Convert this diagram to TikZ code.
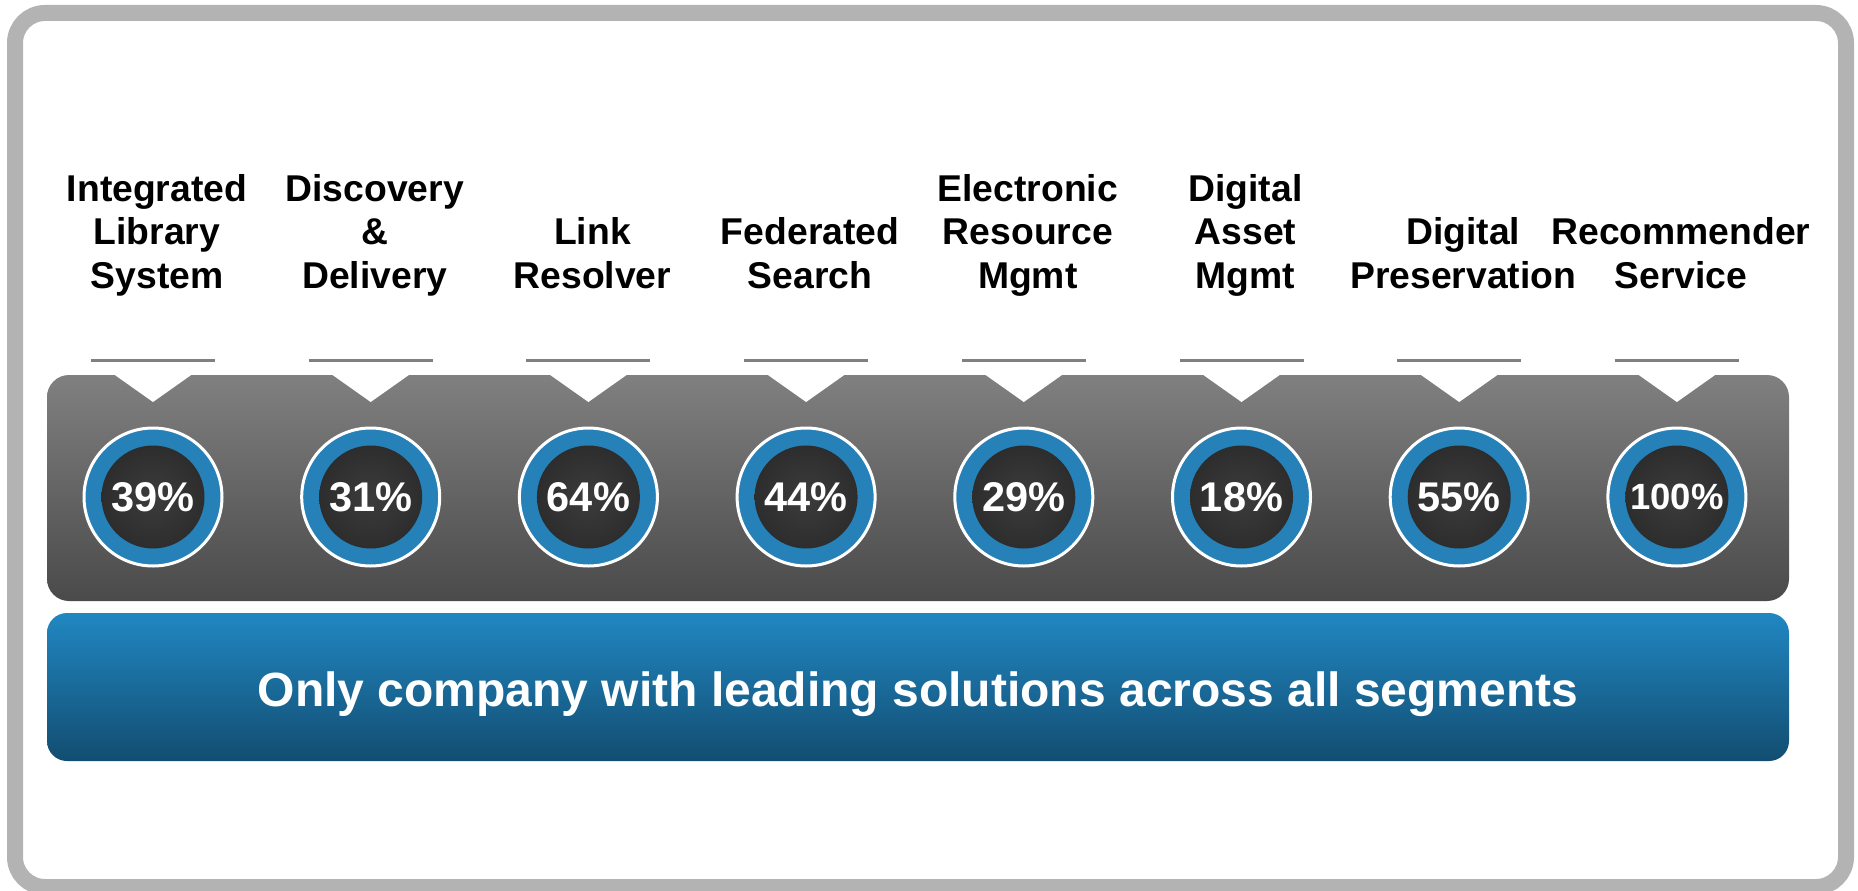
\documentclass[tikz,border=0pt]{standalone}
\usepackage{fontspec}
\setmainfont{Liberation Sans}
\usetikzlibrary{positioning}

\definecolor{frameGray}{HTML}{B3B3B3}
\definecolor{barTop}{HTML}{808080}
\definecolor{barBottom}{HTML}{4A4A4A}
\definecolor{ringBlue}{HTML}{2681B8}
\definecolor{coreIn}{HTML}{3C3C3C}
\definecolor{coreOut}{HTML}{2D2D2D}
\definecolor{bannerTop}{HTML}{2187C2}
\definecolor{bannerBottom}{HTML}{124D71}

\begin{document}
\begin{tikzpicture}[x=1pt,y=-1pt,
  segLabel/.style={anchor=south, align=center, inner sep=0pt, font=\fontsize{37.3}{43.5}\selectfont\bfseries},
  segRule/.style={line width=3pt, draw=barTop},
  ring/.style={circle, fill=ringBlue, draw=white, line width=3pt, minimum size=138pt, inner sep=0pt},
  core/.style={circle, inner color=coreIn, outer color=coreOut, minimum size=103pt, inner sep=0pt, text=white},
  panel/.style={rounded corners=22pt, top color=barTop, bottom color=barBottom, minimum width=1742pt, minimum height=226pt, inner sep=0pt},
  banner/.style={rounded corners=20pt, top color=bannerTop, bottom color=bannerBottom, minimum width=1742pt, minimum height=148pt, inner sep=0pt}]
  \useasboundingbox (0,0) rectangle (1858,891);
  \draw[frameGray, line width=16pt, rounded corners=30pt] (15,13) rectangle (1846,887);
  \node[panel] (panel) at (918,488) {};
  \node[banner] (banner) at (918,687) {};
  \node[anchor=base, text=white, inner sep=0pt, font=\fontsize{48}{54}\selectfont\bfseries] (slogan) at (918,706) {Only company with leading solutions across all segments};
  \foreach \i/\lab/\pc/\ps in {1/{Integrated\\Library\\System}/39\%/41.5,
      2/{Discovery\\\&\\Delivery}/31\%/41.5,
      3/{Link\\Resolver}/64\%/41.5,
      4/{Federated\\Search}/44\%/41.5,
      5/{Electronic\\Resource\\Mgmt}/29\%/41.5,
      6/{Digital\\Asset\\Mgmt}/18\%/41.5,
      7/{Digital\\Preservation}/55\%/41.5,
      8/{Recommender\\Service}/100\%/36.5}{
    \pgfmathsetmacro\cx{153+217.7*(\i-1)}
    \fill[white] (\cx-41,373) -- (\cx,402) -- (\cx+41,373) -- cycle;
    \draw[segRule] (\cx-62,360) -- (\cx+62,360);
    \node[segLabel] (lab\i) at (\cx+4,301.5) {\lab\strut};
    \node[ring] (ring\i) at (\cx,497) {};
    \node[core, font=\fontsize{\ps}{44}\selectfont\bfseries] (pct\i) at (ring\i) {\pc};
  }
\end{tikzpicture}
\end{document}
